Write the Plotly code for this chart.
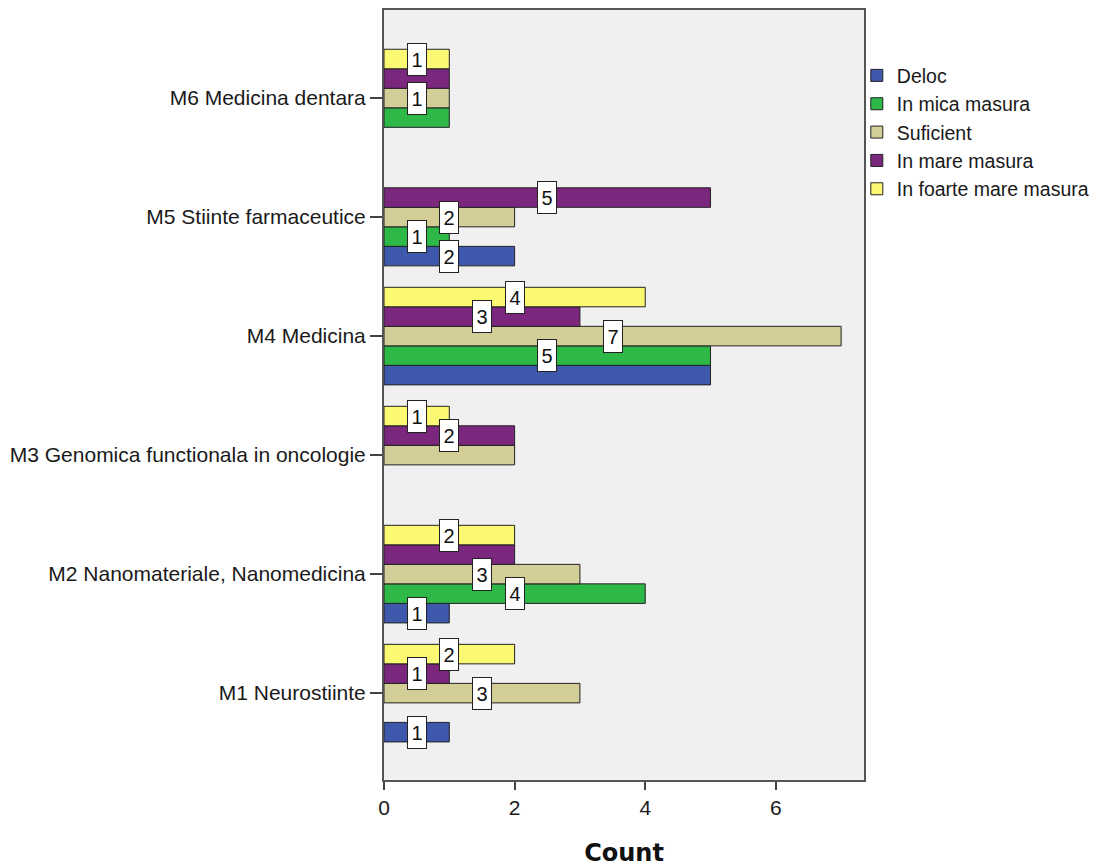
import plotly.graph_objects as go

categories = [
    "M1 Neurostiinte",
    "M2 Nanomateriale, Nanomedicina",
    "M3 Genomica functionala in oncologie",
    "M4 Medicina",
    "M5 Stiinte farmaceutice",
    "M6 Medicina dentara",
]

series_names = ["Deloc", "In mica masura", "Suficient", "In mare masura", "In foarte mare masura"]
deloc = [1, 1, 0, 5, 2, 0]
mica_masura = [0, 4, 0, 5, 1, 1]
suficient = [3, 3, 2, 7, 2, 1]
mare_masura = [1, 2, 2, 3, 5, 1]
foarte_mare_masura = [2, 2, 1, 4, 0, 1]

colors = ["#3E58AC", "#2EB848", "#D3CE97", "#7B277E", "#FBF873"]
x_ticks = [0, 2, 4, 6]

series_values = [deloc, mica_masura, suficient, mare_masura, foarte_mare_masura]

BARGAP = 0.18
FONT = "Liberation Sans, Arial, sans-serif"

fig = go.Figure()

for name, vals, color in zip(series_names, series_values, colors):
    fig.add_trace(go.Bar(
        name=name,
        y=categories,
        # empty cells are not drawn at all (no stub outline on the axis)
        x=[v if v else None for v in vals],
        orientation="h",
        marker=dict(color=color, line=dict(color="#222222", width=1)),
        hoverinfo="x+y+name",
    ))

# value labels in boxes, SPSS style: a label is dropped when it would sit
# on top of the label just above it (same value, adjacent bar)
n = len(series_names)
bar_w = (1 - BARGAP) / n
for ci in range(len(categories)):
    prev_shown = None
    for k in range(n - 1, -1, -1):
        v = series_values[k][ci]
        if v == 0:
            prev_shown = None
            continue
        if prev_shown is not None and prev_shown == v:
            prev_shown = None
            continue
        prev_shown = v
        fig.add_annotation(
            x=v / 2,
            y=ci + (k - (n - 1) / 2) * bar_w,
            xref="x", yref="y",
            text=str(v),
            showarrow=False,
            font=dict(family=FONT, size=20, color="#111111"),
            bgcolor="white",
            bordercolor="#222222",
            borderwidth=1,
            borderpad=3,
            width=12,
            height=25,
        )

# page body has an 8px margin, so the figure is a bit smaller than the window
fig.update_layout(
    width=1104,
    height=860,
    barmode="group",
    bargap=BARGAP,
    bargroupgap=0,
    paper_bgcolor="white",
    plot_bgcolor="#F0F0F0",
    margin=dict(l=376, r=248, t=2, b=88),
    font=dict(family=FONT, size=21, color="#1a1a1a"),
    showlegend=True,
    legend=dict(
        x=0.985, y=0.94,
        xanchor="left", yanchor="top",
        traceorder="normal",
        font=dict(family=FONT, size=19.5, color="#1a1a1a"),
        bgcolor="rgba(0,0,0,0)",
        tracegroupgap=0,
    ),
)

fig.update_xaxes(
    range=[0, 7.35],
    tickvals=x_ticks,
    ticks="outside",
    ticklen=8,
    tickwidth=2,
    tickcolor="#444444",
    showgrid=False,
    zeroline=False,
    showline=True,
    linecolor="#555555",
    linewidth=2,
    mirror=True,
    automargin=False,
    tickfont=dict(family=FONT, size=21, color="#1a1a1a"),
    title=dict(text="<b>Count</b>", font=dict(family="DejaVu Sans, sans-serif", size=24, color="#111111"), standoff=26),
)

fig.update_yaxes(
    type="category",
    categoryorder="array",
    categoryarray=categories,
    range=[-0.73, 5.74],
    ticks="outside",
    ticklen=12,
    tickwidth=2,
    tickcolor="#444444",
    showgrid=False,
    zeroline=False,
    showline=True,
    linecolor="#555555",
    linewidth=2,
    mirror=True,
    automargin=False,
    tickfont=dict(family=FONT, size=21, color="#1a1a1a"),
)

fig.write_html("out.html")
